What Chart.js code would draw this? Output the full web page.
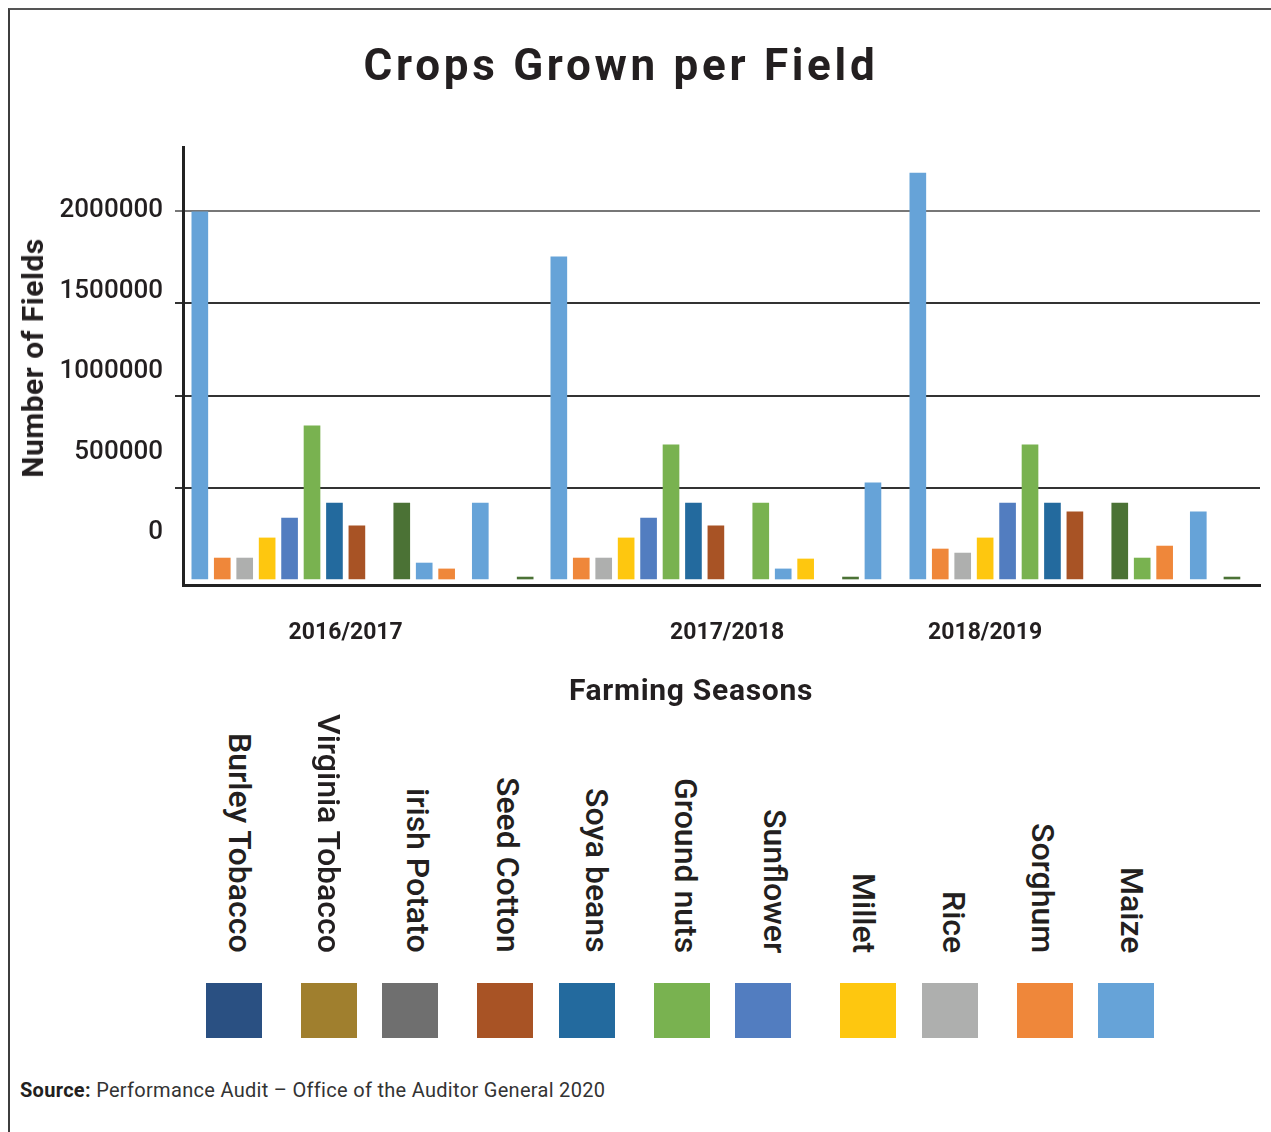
<!DOCTYPE html>
<html>
<head>
<meta charset="utf-8">
<script src="https://cdn.jsdelivr.net/npm/chart.js@4.4.1/dist/chart.umd.min.js"></script>
<style>
  html, body { margin: 0; padding: 0; background: #fff; }
  #wrap { position: relative; width: 1271px; height: 1132px; overflow: hidden; font-family: Roboto, "Liberation Sans", sans-serif; color: #231f20; }
  #frame { position: absolute; left: 8px; top: 8px; width: 1300px; height: 1200px; border-left: 2px solid #3d3d3d; border-top: 2px solid #555; box-sizing: border-box; }
  #chartBox { position: absolute; left: 0; top: 0; width: 1271px; height: 720px; }
  .t { position: absolute; white-space: nowrap; }
  #title { left: 4px; width: 1234px; top: 43px; text-align: center; font-weight: 700; font-size: 44px; line-height: 44px; letter-spacing: 3.7px; }
  #ytitle { left: 33px; top: 358px; transform: translate(-50%, -50%) rotate(-90deg); font-weight: 700; font-size: 30px; line-height: 30px; letter-spacing: 0.5px; }
  #xtitle { left: 691px; top: 675px; transform: translateX(-50%); font-weight: 700; font-size: 30px; line-height: 30px; letter-spacing: 0.7px; }
  .leg { position: absolute; bottom: 179px; width: 32px; margin-left: -16px; writing-mode: vertical-rl; font-weight: 500; font-size: 32px; line-height: 32px; white-space: nowrap; color: #231f20; }
  .sw { position: absolute; top: 983px; width: 56px; height: 55px; }
  #source { left: 20px; top: 1080px; font-size: 20px; line-height: 20px; letter-spacing: 0.3px; color: #333; }
  #source b { font-weight: 700; color: #231f20; }
</style>
</head>
<body>
<div id="wrap">
  <div id="frame"></div>
  <div id="chartBox"><canvas id="c" width="1271" height="720"></canvas></div>
  <div class="t" id="title">Crops Grown per Field</div>
  <div class="t" id="ytitle">Number of Fields</div>
  <div class="t" id="xtitle">Farming Seasons</div>
  <div id="legend"></div>
  <div class="t" id="source"><b>Source:</b> Performance Audit – Office of the Auditor General 2020</div>
</div>
<script>
// ---------- data ----------
const seasons = ['2016/2017', '2017/2018', '2018/2019'];
const crops = ['Burley Tobacco', 'Virginia Tobacco', 'irish Potato', 'Seed Cotton', 'Soya beans',
               'Ground nuts', 'Sunflower', 'Millet', 'Rice', 'Sorghum', 'Maize'];
const yTickValues = [0, 500000, 1000000, 1500000, 2000000];

// bar values (number of fields) per season, left to right
const fields1617 = [1996000, 119000, 119000, 228000, 336000, 835000, 417000, 293000, 417000, 92000, 60000, 417000, 16000];
const fields1718 = [1751000, 119000, 119000, 228000, 336000, 732000, 417000, 293000, 417000, 60000, 114000, 16000, 526000];
const fields1819 = [2206000, 168000, 146000, 228000, 417000, 732000, 417000, 369000, 417000, 119000, 184000, 369000, 16000];

// which crop (colour) each bar shows
const barCrops1617 = ['Maize', 'Sorghum', 'Rice', 'Millet', 'Sunflower', 'Ground nuts', 'Soya beans', 'Seed Cotton', 'Other', 'Maize', 'Sorghum', 'Maize', 'Other'];
const barCrops1718 = ['Maize', 'Sorghum', 'Rice', 'Millet', 'Sunflower', 'Ground nuts', 'Soya beans', 'Seed Cotton', 'Ground nuts', 'Maize', 'Millet', 'Other', 'Maize'];
const barCrops1819 = ['Maize', 'Sorghum', 'Rice', 'Millet', 'Sunflower', 'Ground nuts', 'Soya beans', 'Seed Cotton', 'Other', 'Ground nuts', 'Sorghum', 'Maize', 'Other'];

// ---------- layout / style (kept apart from the data) ----------
const palette = {
  'Burley Tobacco': '#2a5082', 'Virginia Tobacco': '#a07f2e', 'irish Potato': '#6f6f6f',
  'Seed Cotton': '#a85325', 'Soya beans': '#236a9e', 'Ground nuts': '#79b250',
  'Sunflower': '#527dc0', 'Millet': '#fec70f', 'Rice': '#aeafae', 'Sorghum': '#ef873a',
  'Maize': '#66a3d8', 'Other': '#4b7235'
};
// category slot of each bar inside its season group
const barSlots1617 = [0, 1, 2, 3, 4, 5, 6, 7, 9, 10, 11, 12.5, 14.5];
const barSlots1718 = [0, 1, 2, 3, 4, 5, 6, 7, 9, 10, 11, 13, 14];
const barSlots1819 = [0, 1, 2, 3, 4, 5, 6, 7, 9, 10, 11, 12.5, 14];
const SUB_PER_SEASON = 32;                 // half-slots per season
const seasonLabelSub = [14, 48, 71];       // where the season names sit
const legendTextX = [240, 329, 418, 508, 597, 686, 775, 864, 954, 1043, 1132];
const legendSwatchX = [206, 301, 382, 477, 559, 654, 735, 840, 922, 1017, 1098];

// ---------- build ----------
const total = seasons.length * SUB_PER_SEASON;
const labels = new Array(total).fill('');
seasons.forEach((s, i) => { labels[seasonLabelSub[i]] = s; });
const values = new Array(total).fill(null);
const colors = new Array(total).fill('rgba(0,0,0,0)');
[[fields1617, barCrops1617, barSlots1617],
 [fields1718, barCrops1718, barSlots1718],
 [fields1819, barCrops1819, barSlots1819]].forEach(([vals, cr, slots], s) => {
  vals.forEach((v, i) => {
    const idx = s * SUB_PER_SEASON + Math.round(slots[i] * 2) + 1;
    values[idx] = v;
    colors[idx] = palette[cr[i]];
  });
});

// legend (HTML)
const leg = document.getElementById('legend');
crops.forEach((c, i) => {
  const t = document.createElement('div');
  t.className = 'leg'; t.textContent = c; t.style.left = legendTextX[i] + 'px';
  leg.appendChild(t);
  const sw = document.createElement('div');
  sw.className = 'sw'; sw.style.left = legendSwatchX[i] + 'px'; sw.style.background = palette[c];
  leg.appendChild(sw);
});

const setTicks = (scale) => { scale.ticks = yTickValues.map(v => ({ value: v })); };
const noPad = (s) => { s.paddingLeft = 0; s.paddingRight = 0; s.paddingTop = 0; s.paddingBottom = 0; };

new Chart(document.getElementById('c'), {
  type: 'bar',
  data: {
    labels: labels,
    datasets: [{
      data: values,
      backgroundColor: colors,
      borderWidth: 0,
      barThickness: 16
    }]
  },
  options: {
    responsive: false,
    animation: false,
    events: [],
    layout: { padding: { left: 0, top: 147, right: 11, bottom: 0 } },
    plugins: { legend: { display: false }, tooltip: { enabled: false }, title: { display: false } },
    scales: {
      x: {
        type: 'category',
        offset: true,
        grid: { display: false, drawTicks: false },
        border: { display: true, color: '#222', width: 3 },
        ticks: {
          autoSkip: false, maxRotation: 0, minRotation: 0, padding: 34,
          color: '#231f20', font: { family: 'Roboto', size: 23, weight: '700' }
        },
        afterFit: (s) => { s.height = 135; noPad(s); }
      },
      y: {
        type: 'linear',
        position: 'left',
        weight: 0,
        min: -27100,
        max: 2346900,
        afterBuildTicks: setTicks,
        ticks: { display: false },
        grid: {
          drawTicks: true, tickLength: 8, lineWidth: 2,
          color: (ctx) => (ctx.tick && ctx.tick.value === 0) ? 'rgba(0,0,0,0)' :
                          (ctx.tick && ctx.tick.value === 2000000 ? '#777' : '#333')
        },
        border: { display: true, color: '#222', width: 3 },
        afterFit: (s) => { s.width = 20; noPad(s); }
      },
      yLabels: {
        type: 'linear',
        position: 'left',
        weight: 1,
        min: -326600,
        max: 2398100,
        afterBuildTicks: setTicks,
        grid: { display: false, drawTicks: false },
        border: { display: false },
        ticks: {
          padding: 0, color: '#231f20',
          font: { family: 'Roboto', size: 26, weight: '500' },
          callback: (v) => String(v)
        },
        afterFit: (s) => { s.width = 163; noPad(s); }
      }
    }
  }
});
</script>
</body>
</html>
